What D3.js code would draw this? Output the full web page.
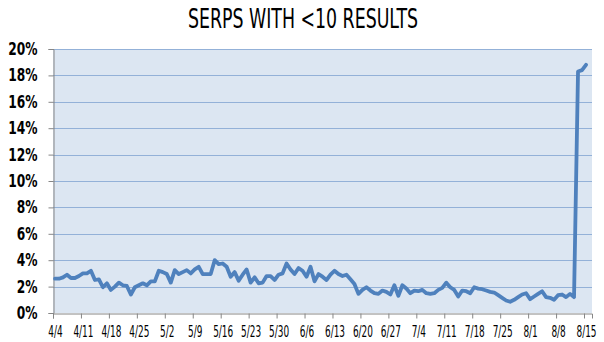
<!DOCTYPE html>
<html>
<head>
<meta charset="utf-8">
<script src="https://cdn.jsdelivr.net/npm/d3@7"></script>
<style>
  html, body { margin: 0; padding: 0; background: #ffffff; }
  svg { display: block; }
  text { font-family: "Liberation Sans Narrow", "DejaVu Sans Condensed", "DejaVu Sans", sans-serif; font-stretch: condensed; }
</style>
</head>
<body>
<svg id="chart" width="604" height="342"></svg>
<script>
// ---- data ----
const title = "SERPS WITH <10 RESULTS";
const tickLabels = ["4/4","4/11","4/18","4/25","5/2","5/9","5/16","5/23","5/30","6/6","6/13","6/20","6/27","7/4","7/11","7/18","7/25","8/1","8/8","8/15"];
const yTicks = [0, 2, 4, 6, 8, 10, 12, 14, 16, 18, 20];
// daily share of SERPs with fewer than 10 results (%), 4/4 .. 8/15
const values = [
  2.6, 2.6, 2.7, 2.9, 2.65, 2.65, 2.8, 3.0, 3.0, 3.2,
  2.5, 2.55, 1.95, 2.25, 1.75, 2.0, 2.3, 2.1, 2.05, 1.4,
  1.95, 2.1, 2.25, 2.1, 2.4, 2.4, 3.2, 3.1, 2.95, 2.3,
  3.25, 2.95, 3.1, 3.25, 3.0, 3.3, 3.5, 2.95, 2.95, 2.95,
  4.0, 3.7, 3.75, 3.5, 2.75, 3.1, 2.45, 2.9, 3.3, 2.3,
  2.7, 2.25, 2.3, 2.8, 2.8, 2.5, 2.9, 3.0, 3.75, 3.3,
  2.95, 3.4, 3.2, 2.75, 3.5, 2.4, 2.95, 2.75, 2.5, 2.9,
  3.2, 2.95, 2.8, 2.9, 2.55, 2.2, 1.45, 1.75, 1.95, 1.7,
  1.5, 1.45, 1.7, 1.6, 1.4, 2.1, 1.3, 2.1, 1.85, 1.5,
  1.7, 1.65, 1.75, 1.5, 1.45, 1.5, 1.75, 1.9, 2.3, 1.95,
  1.75, 1.25, 1.7, 1.65, 1.5, 1.95, 1.85, 1.8, 1.7, 1.6,
  1.55, 1.35, 1.15, 0.95, 0.85, 1.0, 1.2, 1.4, 1.5, 1.05,
  1.25, 1.45, 1.65, 1.2, 1.15, 1.0, 1.35, 1.4, 1.2, 1.45,
  1.2, 18.3, 18.4, 18.8
];
const daysOnAxis = 135;

// ---- layout ----
const svg = d3.select("#chart");
const plot = { left: 53, right: 592, top: 49, bottom: 313 };

const x = d3.scaleLinear().domain([0, daysOnAxis]).range([plot.left, plot.right]);
const y = d3.scaleLinear().domain([0, 20]).range([plot.bottom, plot.top]);

// plot background
svg.append("rect")
  .attr("x", plot.left).attr("y", plot.top)
  .attr("width", plot.right - plot.left).attr("height", plot.bottom - plot.top)
  .attr("fill", "#dce6f2");

// gridlines
svg.append("g")
  .selectAll("line")
  .data(yTicks.filter(d => d > 0))
  .join("line")
  .attr("x1", plot.left).attr("x2", plot.right)
  .attr("y1", d => Math.round(y(d)) + 0.5).attr("y2", d => Math.round(y(d)) + 0.5)
  .attr("stroke", "#93b1d8").attr("stroke-width", 1);

// y axis
const yAxis = svg.append("g")
  .attr("transform", `translate(${plot.left + 0.5},0)`)
  .call(d3.axisLeft(y).tickValues(yTicks).tickSize(5).tickPadding(11).tickFormat(d => d + "%"));
yAxis.select(".domain").attr("stroke", "#868686");
yAxis.selectAll(".tick line").attr("stroke", "#868686");
yAxis.selectAll(".tick text")
  .attr("x", 0)
  .attr("transform", "translate(-16,0) scale(0.8,1)")
  .attr("fill", "#000").attr("font-size", 17).attr("font-weight", "bold")
  .attr("font-family", "'Liberation Sans Narrow', 'DejaVu Sans Condensed', 'DejaVu Sans', sans-serif");

// x axis
const dayW = x(1) - x(0);
const xAxis = svg.append("g")
  .attr("transform", `translate(0,${plot.bottom + 0.5})`)
  .call(d3.axisBottom(x).tickValues(tickLabels.map((_, k) => k * 7)).tickSize(5).tickPadding(7)
    .tickFormat((d, k) => tickLabels[k]));
xAxis.select(".domain").attr("stroke", "#868686");
xAxis.selectAll(".tick line").attr("stroke", "#868686");
xAxis.selectAll(".tick text")
  .attr("x", 0)
  .attr("transform", `translate(${dayW / 2},0) scale(0.62,1)`)
  .attr("fill", "#000").attr("font-size", 16)
  .attr("font-family", "'Liberation Sans Narrow', 'DejaVu Sans Condensed', 'DejaVu Sans', sans-serif");

// line
const line = d3.line()
  .x((d, i) => x(i + 0.5))
  .y(d => y(d));
svg.append("path")
  .datum(values)
  .attr("d", line)
  .attr("fill", "none")
  .attr("stroke", "#4f81bd")
  .attr("stroke-width", 3.8)
  .attr("stroke-linejoin", "round")
  .attr("stroke-linecap", "round");

// title
svg.append("text")
  .attr("x", 303).attr("y", 27.5)
  .attr("text-anchor", "middle")
  .attr("font-size", 27)
  .attr("textLength", 230)
  .attr("lengthAdjust", "spacingAndGlyphs")
  .attr("fill", "#000")
  .text(title);
</script>
</body>
</html>
